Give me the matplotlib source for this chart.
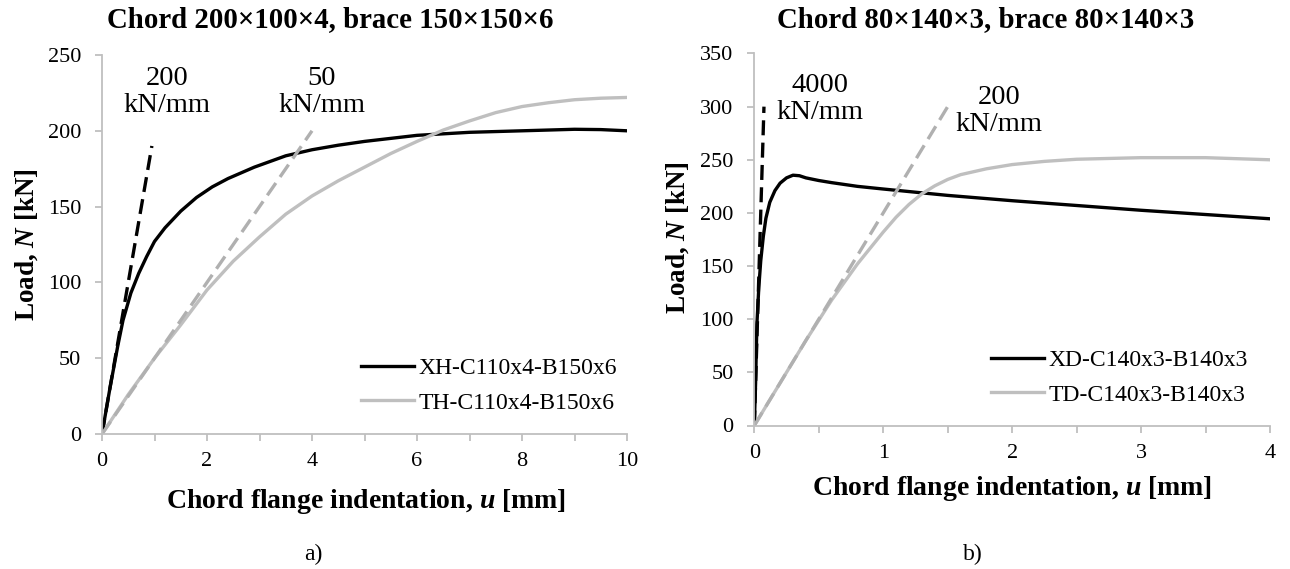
import matplotlib
matplotlib.use("Agg")
import matplotlib.pyplot as plt
import numpy as np

plt.rcParams['font.family'] = ['Liberation Serif', 'DejaVu Serif']
plt.rcParams['mathtext.fontset'] = 'custom'
plt.rcParams['mathtext.it'] = 'Liberation Serif:italic:bold'
plt.rcParams['mathtext.rm'] = 'Liberation Serif:bold'
plt.rcParams['mathtext.bf'] = 'Liberation Serif:bold'

# ---------------- data: panel a) ----------------
xh_u = [0, 0.15, 0.3, 0.4, 0.55, 0.7, 0.85, 1.0, 1.2, 1.5, 1.8, 2.1, 2.4, 2.9, 3.5,
        4.0, 4.5, 5.0, 5.5, 6.0, 6.5, 7.0, 7.5, 8.0, 8.5, 9.0, 9.5, 10.0]
xh_N = [0, 30, 58, 75, 93, 106, 117, 127, 136, 147, 156, 163, 168.5, 176, 183.5,
        187.5, 190.5, 193, 195, 197, 198, 199, 199.5, 200, 200.5, 201, 200.8, 200]
th_u = [0, 0.5, 1.0, 1.5, 2.0, 2.5, 3.0, 3.5, 4.0, 4.5, 5.0, 5.5, 6.0, 6.5, 7.0,
        7.5, 8.0, 8.5, 9.0, 9.5, 10.0]
th_N = [0, 26, 50, 72, 95, 114, 130, 145, 157, 167, 176, 185, 193, 200.5, 206.5,
        212, 216, 218.5, 220.5, 221.5, 222]
k200a_u = [0, 0.95]
k200a_N = [0, 190]
k50_u = [0, 4.0]
k50_N = [0, 200]

# ---------------- data: panel b) ----------------
xd_u = [0, 0.01, 0.02, 0.035, 0.05, 0.07, 0.09, 0.12, 0.16, 0.2, 0.25, 0.3, 0.35,
        0.4, 0.5, 0.6, 0.8, 1.0, 1.25, 1.5, 1.75, 2.0, 2.5, 3.0, 3.5, 4.0]
xd_N = [0, 40, 95, 130, 155, 178, 195, 210, 221, 228, 233, 235.5, 235,
        233, 230.5, 228.5, 225, 222.5, 219.5, 216.5, 214, 211.5, 207, 202.5, 198.5, 194.5]
td_u = [0, 0.2, 0.4, 0.6, 0.8, 1.0, 1.1, 1.2, 1.3, 1.4, 1.5, 1.6, 1.8, 2.0, 2.25,
        2.5, 3.0, 3.5, 4.0]
td_N = [0, 40, 80, 118, 152, 182, 196, 208, 218, 225.5, 231.5, 236, 241.5, 245.5, 248.5,
        250.5, 252, 252, 250]
k4000_u = [0, 0.075]
k4000_N = [0, 300]
k200b_u = [0, 1.5]
k200b_N = [0, 300]

labels_a = ["XH-C110x4-B150x6", "TH-C110x4-B150x6"]
labels_b = ["XD-C140x3-B140x3", "TD-C140x3-B140x3"]
titles = ["Chord 200×100×4, brace 150×150×6", "Chord 80×140×3, brace 80×140×3"]
xlabel = r"Chord flange indentation, $u$ [mm]"
ylabel = r"Load, $N$ [kN]"
captions = ["a)", "b)"]
ann_a = ["200\nkN/mm", "50\nkN/mm"]
ann_b = ["4000\nkN/mm", "200\nkN/mm"]

xt_a_major = [0, 2, 4, 6, 8, 10]
xt_a_minor = [1, 3, 5, 7, 9]
yt_a = [0, 50, 100, 150, 200, 250]
xt_b_major = [0, 1, 2, 3, 4]
xt_b_minor = [0.5, 1.5, 2.5, 3.5]
yt_b = [0, 50, 100, 150, 200, 250, 300, 350]

W, H = 1290, 569
fig = plt.figure(figsize=(W / 100, H / 100), dpi=100)

BLACK = "#000000"
GREY = "#bfbfbf"
GREYD = "#b0b0b0"
SPINE = "#bfbfbf"


def px_axes(x0, x1, y0, y1):
    return fig.add_axes([x0 / W, 1 - y0 / H, (x1 - x0) / W, (y0 - y1) / H])


def style(ax, xmaj, xmin, yt):
    for s in ["top", "right"]:
        ax.spines[s].set_visible(False)
    for s in ["left", "bottom"]:
        ax.spines[s].set_color(SPINE)
        ax.spines[s].set_linewidth(1.3)
    ax.set_xticks(xmaj)
    ax.set_xticks(xmin, minor=True)
    ax.set_yticks(yt)
    ax.set_xlim(xmaj[0], xmaj[-1])
    ax.set_ylim(yt[0], yt[-1])
    ax.tick_params(axis="both", which="both", direction="out", length=5, width=1.3,
                   color=SPINE, labelsize=16, labelcolor="black")
    ax.tick_params(axis="x", pad=8)
    ax.tick_params(axis="y", pad=10)
    ax.patch.set_alpha(0)


lw = 2.4
dash = (0, (4.5, 2.2))

# Panel a
ax1 = px_axes(102, 627, 434, 55)
style(ax1, xt_a_major, xt_a_minor, yt_a)
l1, = ax1.plot(xh_u, xh_N, color=BLACK, lw=lw, label=labels_a[0])
l2, = ax1.plot(th_u, th_N, color=GREY, lw=lw, label=labels_a[1])
ax1.plot(k200a_u, k200a_N, color=BLACK, lw=lw, linestyle=dash)
ax1.plot(k50_u, k50_N, color=GREYD, lw=lw, linestyle=dash)
ax1.text(1.24, 225.8, ann_a[0], fontsize=20.5, ha="center", va="center", linespacing=1.1)
ax1.text(4.19, 225.8, ann_a[1], fontsize=20.5, ha="center", va="center", linespacing=1.1)
ax1.legend(handles=[l1, l2], loc="center left", bbox_to_anchor=(0.493, 0.128),
           frameon=False, fontsize=17, handlelength=2.25, handletextpad=0.2,
           borderpad=0, borderaxespad=0, labelspacing=0.56)

# Panel b
ax2 = px_axes(754.3, 1270, 425.5, 53.5)
style(ax2, xt_b_major, xt_b_minor, yt_b)
m1, = ax2.plot(xd_u, xd_N, color=BLACK, lw=lw, label=labels_b[0])
m2, = ax2.plot(td_u, td_N, color=GREY, lw=lw, label=labels_b[1])
ax2.plot(k4000_u, k4000_N, color=BLACK, lw=lw, linestyle=dash)
ax2.plot(k200b_u, k200b_N, color=GREYD, lw=lw, linestyle=dash)
ax2.text(0.51, 307, ann_b[0], fontsize=20.5, ha="center", va="center", linespacing=1.1)
ax2.text(1.90, 296, ann_b[1], fontsize=20.5, ha="center", va="center", linespacing=1.1)
ax2.legend(handles=[m1, m2], loc="center left", bbox_to_anchor=(0.459, 0.129),
           frameon=False, fontsize=17, handlelength=2.25, handletextpad=0.2,
           borderpad=0, borderaxespad=0, labelspacing=0.56)

# Titles, axis labels, captions (figure pixel positions)
def ftext(x, y, s, **kw):
    fig.text(x / W, 1 - y / H, s, **kw)

ftext(330, 27.5, titles[0], fontsize=20.8, fontweight="bold", ha="center", va="baseline")
ftext(986, 27.5, titles[1], fontsize=20.8, fontweight="bold", ha="center", va="baseline")
ftext(366, 508, xlabel, fontsize=20, fontweight="bold", ha="center", va="baseline")
ftext(1012, 495, xlabel, fontsize=20, fontweight="bold", ha="center", va="baseline")
ftext(27, 245, ylabel, fontsize=19.5, fontweight="bold", ha="center", va="center", rotation=90)
ftext(678, 238, ylabel, fontsize=19.5, fontweight="bold", ha="center", va="center", rotation=90)
ftext(313, 554, captions[0], fontsize=17, ha="center", va="center")
ftext(973, 554, captions[1], fontsize=17, ha="center", va="center")

fig.savefig("out.png", dpi=100)
